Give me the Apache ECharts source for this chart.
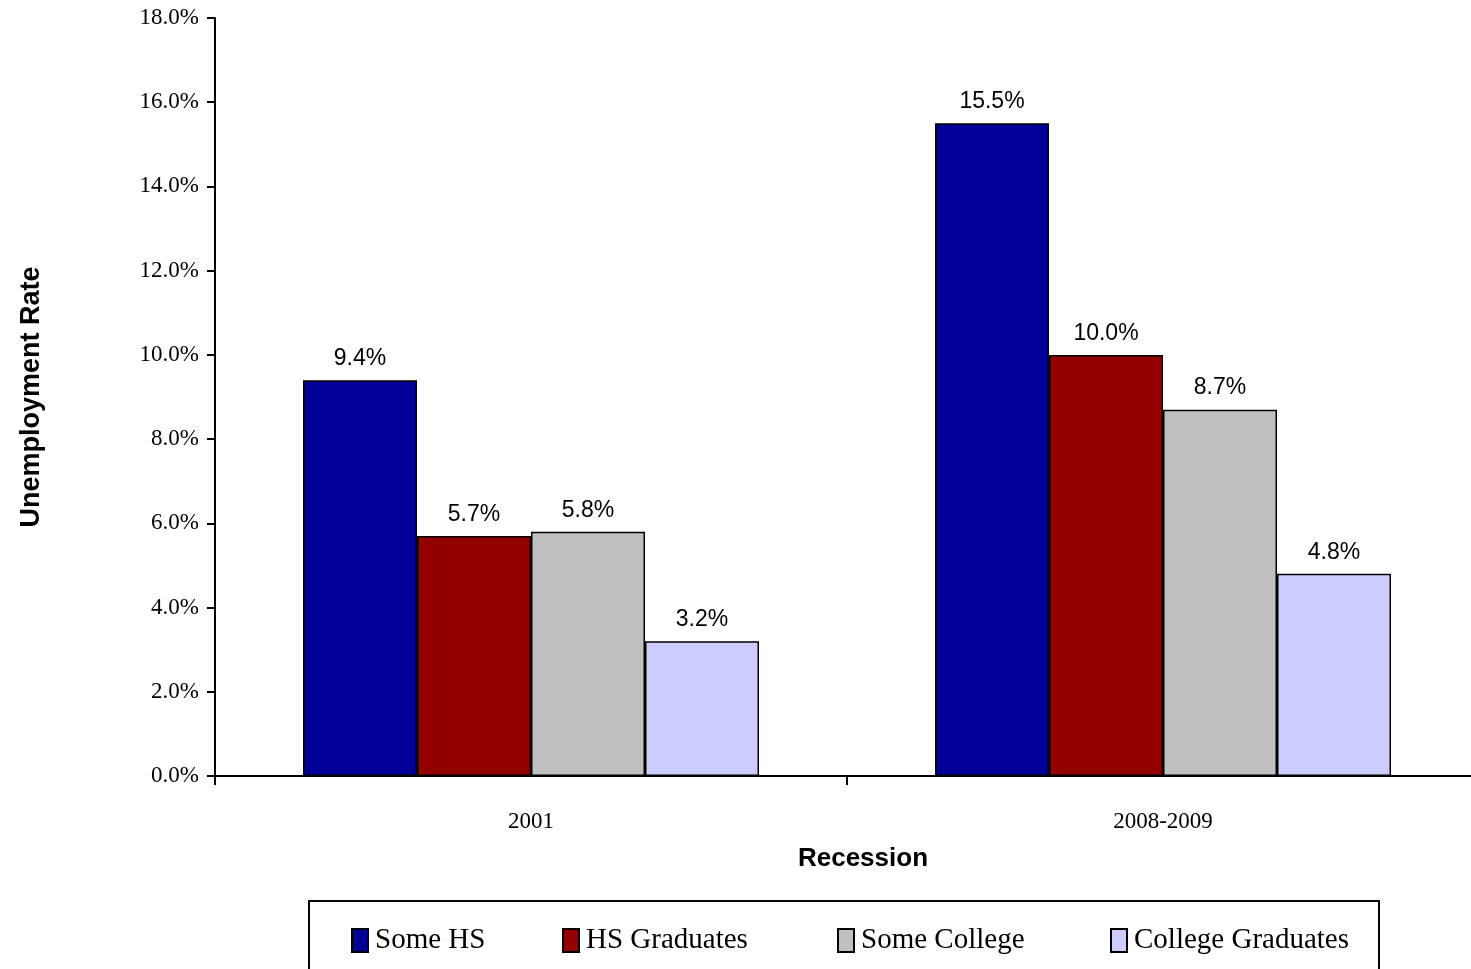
<!DOCTYPE html>
<html>
<head>
<meta charset="utf-8">
<script src="https://cdn.jsdelivr.net/npm/echarts@6/dist/echarts.min.js"></script>
<style>
html,body{margin:0;padding:0;background:#fff;overflow:hidden;}
#chart{width:1490px;height:969px;}
</style>
</head>
<body>
<div id="chart"></div>
<script>
const categories = ['2001', '2008-2009'];
const seriesNames = ['Some HS', 'HS Graduates', 'Some College', 'College Graduates'];
const someHS = [9.4, 15.5];
const hsGraduates = [5.7, 10.0];
const someCollege = [5.8, 8.7];
const collegeGraduates = [3.2, 4.8];
const colors = ['#000099', '#930000', '#C0C0C0', '#CCCCFF'];
const seriesValues = [someHS, hsGraduates, someCollege, collegeGraduates];

const chart = echarts.init(document.getElementById('chart'), null, {renderer: 'canvas'});
const serif = '"Liberation Serif", "Times New Roman", serif';
const sans = '"Liberation Sans", Arial, sans-serif';

const legendLefts = [346, 557, 832, 1105];
const legends = seriesNames.map((n, i) => ({
  data: [n],
  left: legendLefts[i],
  top: 921,
  orient: 'horizontal',
  itemWidth: 16,
  itemHeight: 23,
  itemGap: 0,
  icon: 'rect',
  selectedMode: false,
  textStyle: {fontFamily: serif, fontSize: 29, color: '#000', padding: [0, 0, 0, 2]}
}));

chart.setOption({
  animation: false,
  backgroundColor: '#fff',
  color: colors,
  grid: {left: 215, top: 18, width: 1264, height: 758, containLabel: false},
  legend: legends,
  graphic: [{
    type: 'rect',
    shape: {x: 309, y: 901, width: 1070, height: 100},
    style: {fill: 'none', stroke: '#000', lineWidth: 2},
    silent: true,
    z: 0
  }],
  xAxis: {
    type: 'category',
    data: categories,
    boundaryGap: true,
    name: 'Recession',
    nameLocation: 'middle',
    nameGap: 70,
    nameTextStyle: {fontFamily: sans, fontSize: 26, fontWeight: 'bold', color: '#000', padding: [0, 0, 0, 32]},
    axisLine: {lineStyle: {color: '#000', width: 2}},
    axisTick: {show: true, alignWithLabel: false, length: 9, lineStyle: {color: '#000', width: 2}},
    axisLabel: {fontFamily: serif, fontSize: 23, color: '#000', margin: 34},
    splitLine: {show: false}
  },
  yAxis: {
    type: 'value',
    min: 0,
    max: 18,
    interval: 2,
    name: 'Unemployment Rate',
    nameLocation: 'middle',
    nameGap: 170,
    nameRotate: 90,
    nameTextStyle: {fontFamily: sans, fontSize: 27, fontWeight: 'bold', color: '#000'},
    axisLine: {show: true, lineStyle: {color: '#000', width: 2}},
    axisTick: {show: true, inside: false, length: 8, lineStyle: {color: '#000', width: 2}},
    axisLabel: {fontFamily: serif, fontSize: 23, color: '#000', margin: 16,
      formatter: v => v.toFixed(1) + '%'},
    splitLine: {show: false}
  },
  series: seriesNames.map((n, i) => ({
    name: n,
    type: 'bar',
    data: seriesValues[i],
    barWidth: 114,
    barGap: '0%',
    itemStyle: {color: colors[i], borderColor: '#000', borderWidth: 1.5},
    label: {
      show: true,
      position: 'top',
      distance: 10,
      fontFamily: sans,
      fontSize: 23,
      color: '#000',
      formatter: p => p.value.toFixed(1) + '%'
    }
  }))
});
</script>
</body>
</html>
